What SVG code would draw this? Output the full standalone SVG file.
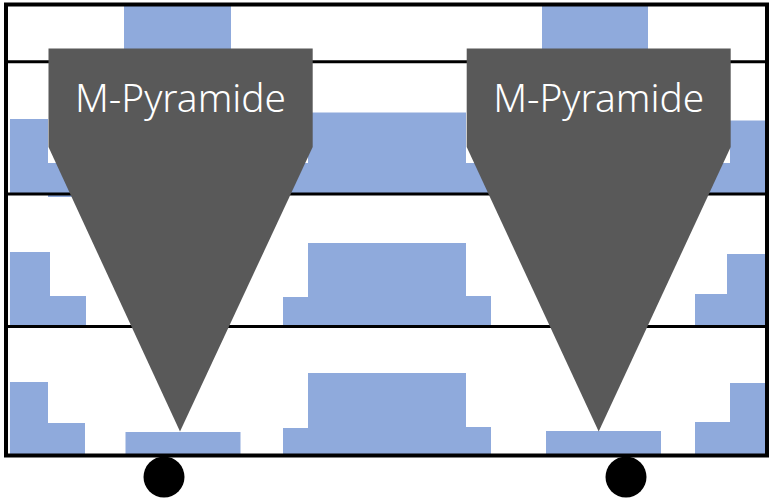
<svg xmlns="http://www.w3.org/2000/svg" width="769" height="500" viewBox="0 0 769 500">
  <style>
    .blue { fill: #8FAADC; }
    .pyr { fill: #595959; }
    .lbl { font-family: "Noto Sans", "Liberation Sans", sans-serif; font-size: 38.5px; font-weight: 300; fill: #FFFFFF; text-anchor: middle; }
    .rule { stroke: #000000; stroke-width: 3; fill: none; }
    .frame { stroke: #000000; stroke-width: 4; fill: none; }
    .ball { fill: #000000; }
  </style>
  <rect x="0" y="0" width="769" height="500" fill="#FFFFFF"/>
  <g id="profiles">
    <!-- row 1 -->
    <rect class="blue" x="124" y="6" width="107" height="56"/>
    <rect class="blue" x="542" y="6" width="106" height="56"/>
    <!-- row 2 -->
    <rect class="blue" x="10" y="119" width="38" height="74"/>
    <rect class="blue" x="48" y="163" width="40" height="34"/>
    <rect class="blue" x="283" y="163" width="25" height="30"/>
    <rect class="blue" x="308" y="112.5" width="158" height="80.5"/>
    <rect class="blue" x="466" y="163" width="25" height="30"/>
    <rect class="blue" x="695" y="163" width="35" height="30"/>
    <rect class="blue" x="730" y="120.5" width="35" height="72.5"/>
    <!-- row 3 -->
    <rect class="blue" x="10" y="252" width="40" height="74"/>
    <rect class="blue" x="50" y="296" width="36" height="30"/>
    <rect class="blue" x="283" y="297" width="25" height="29"/>
    <rect class="blue" x="308" y="243" width="158" height="83"/>
    <rect class="blue" x="466" y="296" width="25" height="30"/>
    <rect class="blue" x="695" y="294" width="32" height="32"/>
    <rect class="blue" x="727" y="254" width="38" height="72"/>
    <!-- row 4 -->
    <rect class="blue" x="10" y="382" width="38" height="72"/>
    <rect class="blue" x="48" y="423" width="37" height="31"/>
    <rect class="blue" x="125.5" y="432" width="115" height="22"/>
    <rect class="blue" x="283" y="428" width="25" height="26"/>
    <rect class="blue" x="308" y="373" width="158" height="81"/>
    <rect class="blue" x="466" y="427" width="25" height="27"/>
    <rect class="blue" x="546" y="431" width="115" height="23"/>
    <rect class="blue" x="695" y="422" width="35" height="32"/>
    <rect class="blue" x="730" y="383" width="35" height="71"/>
  </g>
  <g id="connectors">
    <line class="rule" x1="6" y1="61.7" x2="767" y2="61.7"/>
    <line class="rule" x1="6" y1="194" x2="767" y2="194"/>
    <line class="rule" x1="6" y1="326.5" x2="767" y2="326.5"/>
  </g>
  <g id="frame">
    <rect class="frame" x="6" y="4.5" width="761" height="451"/>
  </g>
  <g id="pyramid-left">
    <polygon class="pyr" points="48.5,48.5 312.7,48.5 312.7,147 180,431.5 48.5,147"/>
    <text class="lbl" x="180.5" y="111.7" textLength="211" lengthAdjust="spacingAndGlyphs">M-Pyramide</text>
  </g>
  <g id="pyramid-right">
    <polygon class="pyr" points="466.7,48.5 730.7,48.5 730.7,147 598.7,431.5 466.7,147"/>
    <text class="lbl" x="598.7" y="111.7" textLength="211" lengthAdjust="spacingAndGlyphs">M-Pyramide</text>
  </g>
  <g id="ball-left">
    <circle class="ball" cx="164" cy="477" r="20.5"/>
  </g>
  <g id="ball-right">
    <circle class="ball" cx="626" cy="477" r="20.5"/>
  </g>
</svg>
